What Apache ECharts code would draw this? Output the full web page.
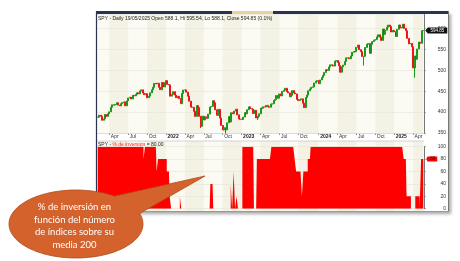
<!DOCTYPE html>
<html><head><meta charset="utf-8">
<script src="https://cdn.jsdelivr.net/npm/echarts@6/dist/echarts.min.js"></script>
<style>html,body{margin:0;padding:0;background:#fff}#c{width:460px;height:261px}</style>
</head><body><div id="c"></div>
<script>
// Weekly SPY closes (week starting Monday), first week 2021-02-01
const startMonday = '2021-02-01';
const close2021 = [387.7,392.6,390.0,380.4,383.6,394.1,389.5,396.0,400.6,411.5,417.3,416.7,418.0,422.1,416.6,414.9,420.0,422.6,424.3,414.9,426.6,433.7,435.5,431.3,439.9,438.5,442.5,445.9,443.4,450.3,453.1,445.4,441.4,443.9,434.2,437.9,445.9,453.1,459.3,468.5,467.3,468.9,459.0,453.4,470.7,459.9,470.6,475.0];
const close2022 = [466.1,464.7,438.0,442.0,448.7,440.5,434.2,437.8,432.2,420.1,444.5,452.7,452.9,447.6,437.8,426.0,412.0,411.3,401.7,389.6,415.3,410.5,389.8,365.9,390.1,381.2,388.7,385.1,395.1,412.0,413.5,427.1,422.1,405.3,392.2,406.6,385.6,368.0,357.2,362.8,357.6,374.3,389.0,376.4,398.5,396.0,402.3,406.9,393.3,383.3,382.9,382.4];
const close2023 = [388.1,398.5,395.9,405.7,412.4,408.0,407.3,396.4,404.2,385.9,390.0,395.8,409.4,409.2,412.5,412.2,415.9,412.6,411.6,418.6,420.0,427.9,429.9,439.5,433.2,443.3,438.6,449.3,452.2,456.9,448.8,445.7,436.5,440.0,451.2,445.5,443.4,430.4,427.5,429.5,431.5,421.2,410.7,434.7,440.6,450.8,455.3,459.1,460.2,469.3,473.7,475.3];
const close2024 = [467.9,476.7,482.4,487.4,494.4,501.2,499.5,507.9,512.9,511.7,509.8,521.2,523.1,518.4,510.9,495.2,508.3,512.3,520.8,529.5,529.4,527.4,534.0,542.8,544.5,544.2,554.6,560.0,549.0,544.4,532.9,533.3,554.3,562.1,563.7,540.4,562.0,568.3,571.5,573.0,579.6,584.6,579.0,571.0,598.2,585.8,595.5,602.6,607.8,604.2,591.2,595.0,592.0];
const close2025 = [580.5,597.6,608.0,601.8,600.8,609.7,599.9,594.2,575.9,562.8,564.0,555.7,505.3,533.9,526.4,550.6,566.8,564.3,594.2,594.85];
// Notable intra-week lows (wicks)
const weekLows = {'2022-06-13':362,'2022-10-10':349,'2023-03-13':381,'2024-04-15':494,'2024-08-05':511,'2025-04-07':482};

// % de inversión (weekly)
const pct2021 = [100,100,100,100,100,100,100,100,100,100,100,100,100,100,100,100,100,100,100,100,100,100,100,100,100,100,100,100,100,100,100,100,80,100,100,100,100,100,100,100,100,60,80,80,80,80,80,80];
const pct2022 = [60,60,20,0,0,0,0,0,0,20,0,0,0,0,0,0,0,0,0,0,0,0,0,0,0,0,0,0,0,0,40,40,0,0,0,0,0,0,0,0,0,0,0,0,40,0,60,0,20,0,0,0];
const pct2023 = [100,100,100,100,100,100,100,100,0,0,80,80,80,80,80,80,80,80,80,80,100,100,100,100,100,100,100,100,100,100,100,100,100,100,100,100,80,60,60,60,60,20,60,60,60,80,80,100,100,100,100,100];
const pct2024 = [100,100,100,100,100,100,100,100,100,100,100,100,100,100,100,100,100,100,100,100,100,100,100,100,100,100,100,100,100,100,100,100,100,100,100,100,100,100,100,100,100,100,100,100,100,100,100,100,100,100,100,100,100];
const pct2025 = [100,100,100,100,100,100,80,80,20,20,20,0,0,0,20,20,20,0,80,80];

const priceTicks = {min:350, max:633, interval:50};
const pctTicks = {min:0, max:100, interval:20};
const monthNames = ['Jan','Feb','Mar','Apr','May','Jun','Jul','Aug','Sep','Oct','Nov','Dec'];

const closes = [].concat(close2021, close2022, close2023, close2024, close2025);
const pct = [].concat(pct2021, pct2022, pct2023, pct2024, pct2025);
const N = closes.length;
const dates = [];
let t = Date.parse(startMonday + 'T00:00:00Z');
for (let i = 0; i < N; i++) { dates.push(new Date(t).toISOString().slice(0, 10)); t += 7 * 864e5; }

const qs = dates.map(ds => {
  const d = new Date(ds + 'T00:00:00Z');
  const e = new Date(d.getTime() + 6 * 864e5);
  let ref = null;
  if (d.getUTCDate() === 1) ref = d; else if (e.getUTCMonth() !== d.getUTCMonth()) ref = e;
  if (!ref || ref.getUTCMonth() % 3 !== 0) return null;
  return {m: ref.getUTCMonth(), y: ref.getUTCFullYear()};
});
const qIdx = [];
qs.forEach((q, i) => { if (q) qIdx.push(i); });
const bands = [];
for (let k = 0; k < qIdx.length; k++) {
  const s = qIdx[k], e = k + 1 < qIdx.length ? qIdx[k + 1] : N - 1;
  if (qs[s].m === 3 || qs[s].m === 9) bands.push([{xAxis: dates[s]}, {xAxis: dates[e]}]);
}

const candles = closes.map((c, i) => {
  const o = i ? closes[i - 1] : c;
  let lo = Math.min(o, c), hi = Math.max(o, c);
  if (weekLows[dates[i]] != null) lo = Math.min(lo, weekLows[dates[i]]);
  return [o, c, lo, hi];
});

// callout outline (decoration): ellipse + tail
const cx = 76, cy = 224, rx = 67, ry = 34, tip = [205, 176];
const a1 = -55 * Math.PI / 180, a2 = -18 * Math.PI / 180;
const calloutPts = [tip];
for (let k = 0; k <= 90; k++) {
  const a = a2 + (a1 + 2 * Math.PI - a2) * k / 90;
  calloutPts.push([cx + rx * Math.cos(a), cy + ry * Math.sin(a)]);
}

const FONT = 'Liberation Sans';
const tagPath = 'path://M0,5L5,0L44,0L44,10L5,10Z';
const lastClose = closes[N - 1], lastPct = pct[N - 1];

const chart = echarts.init(document.getElementById('c'));
chart.setOption({
  animation: false,
  backgroundColor: '#ffffff',
  textStyle: {fontFamily: FONT},
  title: [
    {text: 'SPY - Daily 19/05/2025 Open 588.1, Hi 595.54, Lo 588.1, Close 594.85 (0.1%)', left: 98, top: 16.5, padding: 0,
     textStyle: {fontSize: 5, fontWeight: 'normal', color: '#222', fontFamily: FONT}},
    {text: '{a|SPY - }{b|% de inversion}{a| = 80.00}', left: 98, top: 142.5, padding: 0,
     textStyle: {fontSize: 5, fontWeight: 'normal', fontFamily: FONT,
       rich: {a: {fontSize: 5, color: '#222', fontFamily: FONT}, b: {fontSize: 5, color: '#FF2020', fontFamily: FONT}}}}
  ],
  grid: [
    {left: 97, right: 36, top: 14.5, height: 118.5, show: true, backgroundColor: '#FBFBF4', borderWidth: 0},
    {left: 97, right: 36, top: 146.7, height: 62, show: false},
    {left: 97, right: 36, top: 141, height: 70, show: true, backgroundColor: '#FBFBF4', borderWidth: 0}
  ],
  xAxis: [
    {type: 'category', gridIndex: 0, data: dates, boundaryGap: true,
     axisLine: {show: true, lineStyle: {color: '#aaa', width: 0.5}},
     axisTick: {show: true, interval: (i) => !!qs[i], alignWithLabel: true, length: 2, lineStyle: {color: '#444', width: 0.6}},
     axisLabel: {show: true, interval: (i) => !!qs[i], align: 'left', margin: 1.5, padding: [0, 0, 0, 1.5],
       formatter: (v, i) => { const q = qs[i]; if (!q) return ''; return q.m === 0 ? '{y|' + q.y + '}' : '{m|' + monthNames[q.m] + '}'; },
       rich: {y: {fontSize: 5, fontWeight: 'bold', color: '#222', fontFamily: FONT}, m: {fontSize: 5, color: '#333', fontFamily: FONT}}},
     splitLine: {show: false}},
    {type: 'category', gridIndex: 1, data: dates, boundaryGap: true, show: false},
    {type: 'category', gridIndex: 2, data: dates, boundaryGap: true, show: false}
  ],
  yAxis: [
    {type: 'value', gridIndex: 0, position: 'right', min: priceTicks.min, max: priceTicks.max, interval: priceTicks.interval, z: 1.5,
     axisLine: {show: true, lineStyle: {color: '#777', width: 1}},
     axisTick: {show: true, length: 2, lineStyle: {color: '#777', width: 0.6}},
     axisLabel: {fontSize: 5, color: '#333', align: 'right', margin: 22, showMaxLabel: false, fontFamily: FONT},
     splitLine: {show: true, lineStyle: {color: '#E4E4D9', width: 0.6}}},
    {type: 'value', gridIndex: 1, position: 'right', min: pctTicks.min, max: pctTicks.max, interval: pctTicks.interval, z: 1.5,
     axisLine: {show: true, lineStyle: {color: '#777', width: 1}},
     axisTick: {show: true, length: 2, lineStyle: {color: '#777', width: 0.6}},
     axisLabel: {fontSize: 5, color: '#333', align: 'right', margin: 22, fontFamily: FONT},
     splitLine: {show: true, lineStyle: {color: '#E4E4D9', width: 0.6}}},
    {type: 'value', gridIndex: 2, show: false, min: 0, max: 1}
  ],
  series: [
    {type: 'line', xAxisIndex: 0, yAxisIndex: 0, data: [], z: 1, silent: true,
     markArea: {silent: true, itemStyle: {color: '#F3F2E4'}, data: bands}},
    {type: 'line', xAxisIndex: 2, yAxisIndex: 2, data: [], z: 1, silent: true,
     markArea: {silent: true, itemStyle: {color: '#F3F2E4'}, data: bands}},
    {type: 'candlestick', xAxisIndex: 0, yAxisIndex: 0, data: candles, barWidth: 1.5, z: 2,
     itemStyle: {color: '#1A9A1A', color0: '#EE1418', borderColor: '#1A9A1A', borderColor0: '#EE1418', borderWidth: 1},
     markPoint: {symbol: tagPath, symbolSize: [22, 6], symbolOffset: [13, 0], silent: true,
       itemStyle: {color: '#111'},
       label: {show: true, color: '#fff', fontSize: 4.5, fontFamily: FONT, offset: [1, 0], formatter: () => lastClose.toFixed(2)},
       data: [{coord: [dates[N - 1], lastClose], value: lastClose}]}},
    {type: 'line', xAxisIndex: 1, yAxisIndex: 1, data: pct, step: 'middle', symbol: 'none', z: 3,
     lineStyle: {width: 0}, areaStyle: {color: '#FF0000', opacity: 1},
     markPoint: {symbol: tagPath, symbolSize: [11, 5], symbolOffset: [8.5, 0], silent: true,
       itemStyle: {color: '#FF0000'},
       label: {show: true, color: '#500', fontSize: 4.5, fontFamily: FONT, offset: [1, 0], formatter: () => String(lastPct)},
       data: [{coord: [dates[N - 1], lastPct], value: lastPct}]}}
  ],
  graphic: [
    {type: 'rect', z: -10, shape: {x: 96, y: 12, width: 352.5, height: 199.5},
     style: {fill: '#fff', shadowBlur: 3, shadowOffsetX: 2, shadowOffsetY: 2, shadowColor: 'rgba(0,0,0,0.35)'}},
    {type: 'rect', z: 10, shape: {x: 96, y: 11, width: 352.5, height: 3}, style: {fill: '#2A3452'}},
    {type: 'rect', z: 10, shape: {x: 232, y: 11, width: 41, height: 3}, style: {fill: '#E6D29F'}},
    {type: 'line', z: 10, shape: {x1: 96.5, y1: 11, x2: 96.5, y2: 211.5}, style: {stroke: '#2A3452', lineWidth: 1.2}},
    {type: 'line', z: 10, shape: {x1: 448.5, y1: 11, x2: 448.5, y2: 211.5}, style: {stroke: '#777', lineWidth: 1}},
    {type: 'line', z: 10, shape: {x1: 96, y1: 211.5, x2: 449, y2: 211.5}, style: {stroke: '#999', lineWidth: 1}},
    {type: 'line', z: 10, shape: {x1: 97, y1: 141, x2: 424, y2: 141}, style: {stroke: '#bbb', lineWidth: 0.6}},
    {type: 'polygon', z: 20, shape: {points: calloutPts},
     style: {fill: '#D4622D', stroke: '#AE4B1E', lineWidth: 0.8}},
    {type: 'text', z: 21, x: 74.5, y: 226,
     style: {text: '% de inversión en\nfunción del número\nde índices sobre su\nmedia 200', fill: '#fff', fontSize: 9.5, lineHeight: 12.8,
       fontFamily: 'Lato', align: 'center', verticalAlign: 'middle'}}
  ]
});
</script>
</body></html>
